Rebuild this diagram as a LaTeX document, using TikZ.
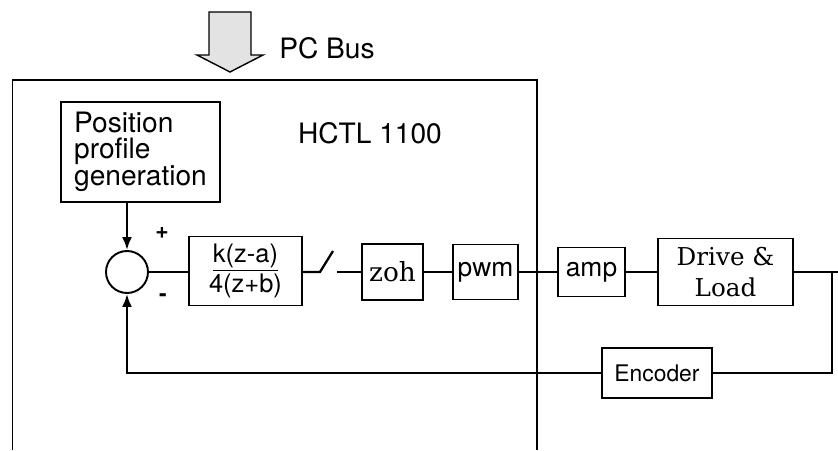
\documentclass[tikz,border=0pt]{standalone}
\usepackage{fontspec}
\setsansfont{TeX Gyre Heros}
\newfontfamily\blockserif{DejaVu Serif}
\usepackage{tikz}
\usetikzlibrary{arrows.meta, positioning, calc}

\begin{document}
\begin{tikzpicture}[
  font=\sffamily\fontsize{16}{17}\selectfont,
  block/.style={rectangle, draw, line width=0.9pt, inner sep=0pt, align=center},
  sumnode/.style={circle, draw, line width=1.1pt, minimum size=8.4mm, inner sep=0pt},
  sig/.style={line width=1.3pt},
  sigarrow/.style={-{Latex[length=2.6mm, width=2mm]}, line width=1.3pt},
  serif/.style={font=\blockserif\fontsize{14}{17.6}\selectfont}
]
  \useasboundingbox (0,0) rectangle (16.76,9);
  \draw[line width=0.7pt] (0.25,0) |- (10.74,7.4) -- (10.74,0);
  \draw[line width=0.8pt, fill=gray!22] (4.18,8.76) -- (4.18,7.9) -- (3.94,7.9) -- (4.6,7.56) -- (5.26,7.9) -- (5.02,7.9) -- (5.02,8.76) -- cycle;
  \node (bus) at (6.54,8.04) {PC Bus};
  \node (hctl) at (7.4,6.34) {HCTL 1100};
  \node[block, minimum width=3.18cm, minimum height=2cm, align=left, font=\sffamily\fontsize{16}{14.7}\selectfont] (pos) at (2.81,5.96) {Position\\profile\\generation};
  \node[sumnode] (sum) at (2.54,3.56) {};
  \node[font=\sffamily\bfseries\fontsize{13}{14}\selectfont] (plus) at (3.24,4.34) {+};
  \node[font=\sffamily\bfseries\fontsize{13}{14}\selectfont] (minus) at (3.26,3.04) {-};
  \node[block, minimum width=2.26cm, minimum height=1.38cm, font=\sffamily\fontsize{14.5}{14.5}\selectfont] (ctrl) at (4.91,3.58) {\underline{k(z-a)}\\4(z+b)};
  \coordinate (sw1) at (6.40,3.56);
  \coordinate (sw2) at (6.66,3.98);
  \coordinate (sw3) at (6.74,3.56);
  \node[block, minimum width=1.22cm, minimum height=1.12cm, font=\blockserif\fontsize{15}{16}\selectfont] (zoh) at (7.85,3.56) {zoh};
  \node[block, minimum width=1.3cm, minimum height=1.1cm, font=\sffamily\fontsize{15}{16}\selectfont] (pwm) at (9.71,3.56) {pwm};
  \node[block, minimum width=1.34cm, minimum height=0.98cm, font=\sffamily\fontsize{15}{16}\selectfont] (amp) at (11.83,3.56) {amp};
  \node[block, serif, minimum width=2.7cm, minimum height=1.34cm] (drive) at (14.51,3.56) {Drive \&\\Load};
  \node[block, minimum width=2.2cm, minimum height=1.0cm, font=\sffamily\fontsize{13}{14}\selectfont] (enc) at (13.14,1.54) {Encoder};
  \coordinate (tap) at (16.64,3.56);
  \coordinate (out) at (16.76,3.56);
  \draw[sigarrow] (pos.south -| sum.north) -- (sum.north);
  \draw[sig] (sum.east) -- (ctrl.west |- sum.east);
  \draw[sig] (ctrl.east |- sw1) -- (sw1) -- (sw2);
  \draw[line width=0.8pt] (sw3) -- (zoh.west);
  \draw[sig] (zoh.east) -- (pwm.west);
  \draw[sig] (pwm.east) -- (amp.west);
  \draw[sig] (amp.east) -- (drive.west);
  \draw[sig] (drive.east) -- (out);
  \draw[sig] (tap) |- (enc.east);
  \draw[sigarrow] (enc.west) -| (sum.south);
\end{tikzpicture}
\end{document}
